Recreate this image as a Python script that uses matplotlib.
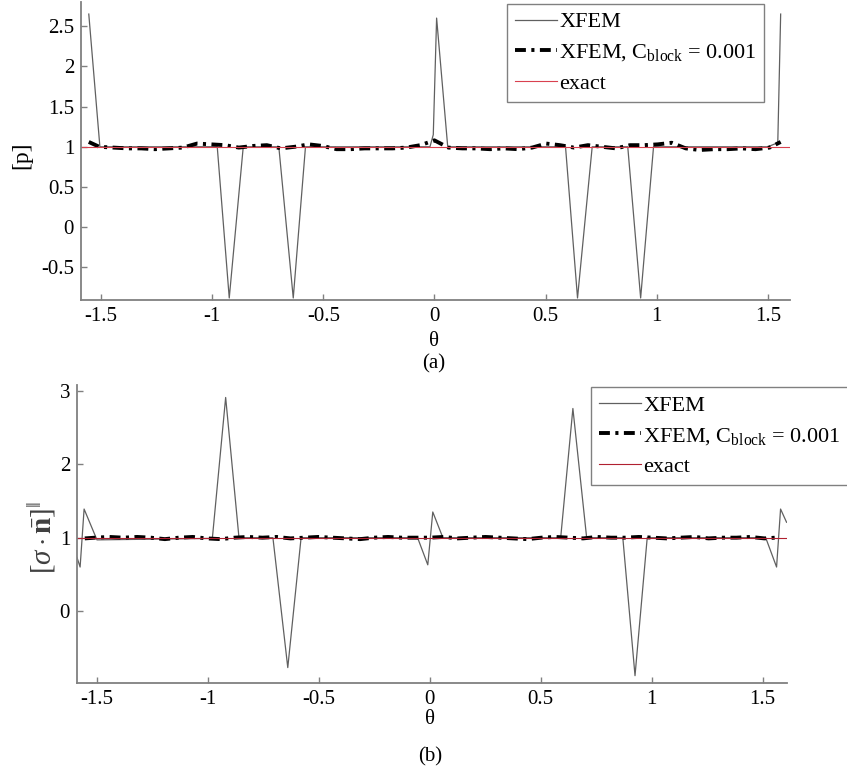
import matplotlib
matplotlib.use("Agg")
import matplotlib.pyplot as plt

plt.rcParams['font.family'] = ['Liberation Serif', 'DejaVu Serif']
plt.rcParams['mathtext.fontset'] = 'custom'
plt.rcParams['mathtext.rm'] = 'Liberation Serif'
plt.rcParams['mathtext.it'] = 'Liberation Serif:italic'
plt.rcParams['mathtext.bf'] = 'Liberation Serif:bold'

# common theta grid for the blocked solution
grid = [-1.555, -1.508, -1.445, -1.382, -1.319, -1.257, -1.194, -1.131, -1.068, -1.005,
        -0.942, -0.880, -0.817, -0.754, -0.691, -0.628, -0.565, -0.503, -0.440, -0.377,
        -0.314, -0.251, -0.188, -0.126, -0.063, 0.000, 0.063, 0.126, 0.188, 0.251,
        0.314, 0.377, 0.440, 0.503, 0.565, 0.628, 0.691, 0.754, 0.817, 0.880,
        0.942, 1.005, 1.068, 1.131, 1.194, 1.257, 1.319, 1.382, 1.445, 1.508, 1.558]

# (a) pressure jump
xfem_a_theta = [-1.555, -1.505, -0.977, -0.923, -0.86, -0.70, -0.635, -0.58, -0.02, -0.005,
                0.01, 0.06, 0.59, 0.644, 0.71, 0.87, 0.928, 0.986, 1.50, 1.545, 1.558]
xfem_a = [2.65, 1.0, 1.0, -0.88, 1.0, 1.0, -0.88, 1.0, 1.0, 1.15,
          2.6, 1.0, 1.0, -0.88, 1.0, 1.0, -0.88, 1.0, 1.0, 1.05, 2.65]
block_a = [1.06, 1.00, 0.99, 0.98, 0.98, 0.97, 0.98, 0.99, 1.04, 1.03,
           1.02, 0.99, 1.01, 1.02, 0.98, 1.00, 1.03, 1.01, 0.97, 0.97,
           0.98, 0.98, 0.98, 0.99, 1.02, 1.08, 0.99, 0.98, 0.98, 0.97,
           0.98, 0.97, 0.99, 1.04, 1.02, 0.99, 1.02, 1.00, 0.98, 1.02,
           1.02, 1.03, 1.05, 0.98, 0.96, 0.97, 0.97, 0.98, 0.97, 0.99, 1.06]
exact_a_theta = [-1.59, 1.60]
exact_a = [1.0, 1.0]

# (b) traction jump
xfem_b_theta = [-1.59, -1.576, -1.558, -1.50, -0.98, -0.92, -0.86, -0.707, -0.64, -0.58,
                -0.055, -0.009, 0.0135, 0.059, 0.59, 0.645, 0.707, 0.87, 0.925, 0.98,
                1.514, 1.563, 1.581, 1.608]
xfem_b = [0.73, 0.60, 1.39, 0.97, 0.99, 2.91, 1.0, 1.0, -0.77, 1.0,
          1.0, 0.63, 1.35, 1.0, 1.0, 2.76, 1.0, 1.0, -0.88, 1.0,
          1.0, 0.60, 1.39, 1.21]
block_b = [0.99, 1.00, 1.01, 1.00, 1.01, 1.00, 0.98, 1.00, 1.01, 0.99,
           0.98, 1.00, 1.01, 1.00, 1.01, 0.99, 1.00, 1.01, 1.00, 0.99,
           0.98, 1.00, 1.01, 1.00, 1.00, 1.00, 1.01, 0.99, 1.00, 1.01,
           1.00, 0.99, 0.98, 1.00, 1.01, 1.00, 0.99, 1.01, 1.00, 1.00,
           1.01, 1.00, 0.99, 1.00, 1.01, 0.99, 1.00, 1.00, 1.01, 0.99, 1.00]
exact_b_theta = [-1.59, 1.61]
exact_b = [1.0, 1.0]

xticks = [-1.5, -1, -0.5, 0, 0.5, 1, 1.5]
xticklabels = ['-1.5', '-1', '-0.5', '0', '0.5', '1', '1.5']
yticks_a = [-0.5, 0, 0.5, 1, 1.5, 2, 2.5]
yticklabels_a = ['-0.5', '0', '0.5', '1', '1.5', '2', '2.5']
yticks_b = [0, 1, 2, 3]
yticklabels_b = ['0', '1', '2', '3']

W, H = 847, 773
fig = plt.figure(figsize=(W / 100, H / 100), dpi=100)

def px_axes(l, r, t, b):
    return fig.add_axes([l / W, 1 - b / H, (r - l) / W, (b - t) / H])

ax1 = px_axes(81, 790, 2, 300)
ax2 = px_axes(77, 787, 385, 683)

dash = (2.8, 1.4, 0.8, 1.4)
gray = '#808080'

def style(ax, yt, ytl):
    for s in ['top', 'right']:
        ax.spines[s].set_visible(False)
    for s in ['left', 'bottom']:
        ax.spines[s].set_color(gray)
        ax.spines[s].set_linewidth(1.3)
    ax.tick_params(direction='in', length=4, width=1, color=gray, labelsize=15, pad=5)
    ax.set_xticks(xticks)
    ax.set_xticklabels(xticklabels)
    ax.set_yticks(yt)
    ax.set_yticklabels(ytl)

def legend(ax, anchor, loc):
    leg = ax.legend(loc=loc, bbox_to_anchor=anchor, bbox_transform=fig.transFigure,
                    fontsize=16, handlelength=1.9, handletextpad=0.1, labelspacing=0.45,
                    borderpad=0.35, borderaxespad=0, fancybox=False, framealpha=1)
    leg.get_frame().set_edgecolor(gray)
    leg.get_frame().set_linewidth(1.0)
    return leg

lab_block = r'XFEM, C$_{\mathrm{block}}$ = 0.001'

# (a)
ax1.plot(xfem_a_theta, xfem_a, color='#606060', lw=0.9, label='XFEM', clip_on=False)
ax1.plot(grid, block_a, color='black', lw=2.8, dashes=dash, label=lab_block)
ax1.plot(exact_a_theta, exact_a, color='#d9414f', lw=0.8, label='exact')
ax1.set_xlim(-1.59, 1.60)
ax1.set_ylim(-0.905, 2.8)
style(ax1, yticks_a, yticklabels_a)
legend(ax1, (507 / W, 1 - 4 / H), 'upper left')
fig.text(22 / W, 1 - 155 / H, '[p]', rotation=90, ha='center', va='center', fontsize=17)
fig.text(434 / W, 1 - 341 / H, 'θ', ha='center', va='center', fontsize=15)
fig.text(434 / W, 1 - 364 / H, '(a)', ha='center', va='center', fontsize=15)

# (b)
ax2.plot(xfem_b_theta, xfem_b, color='#606060', lw=0.9, label='XFEM')
ax2.plot(grid, block_b, color='black', lw=2.8, dashes=dash, label=lab_block)
ax2.plot(exact_b_theta, exact_b, color='#b02030', lw=0.8, label='exact')
ax2.set_xlim(-1.59, 1.61)
ax2.set_ylim(-0.98, 3.08)
style(ax2, yticks_b, yticklabels_b)
legend(ax2, (591 / W, 1 - 485 / H), 'lower left')
fig.text(42 / W, 1 - 537 / H, r'$[\sigma\cdot\bar{\mathbf{n}}]^{\Vert}$', rotation=90,
         ha='center', va='center', fontsize=21, color='#404040')
fig.text(430 / W, 1 - 720 / H, 'θ', ha='center', va='center', fontsize=15)
fig.text(430 / W, 1 - 757 / H, '(b)', ha='center', va='center', fontsize=15)

fig.savefig('out.png', dpi=100)
